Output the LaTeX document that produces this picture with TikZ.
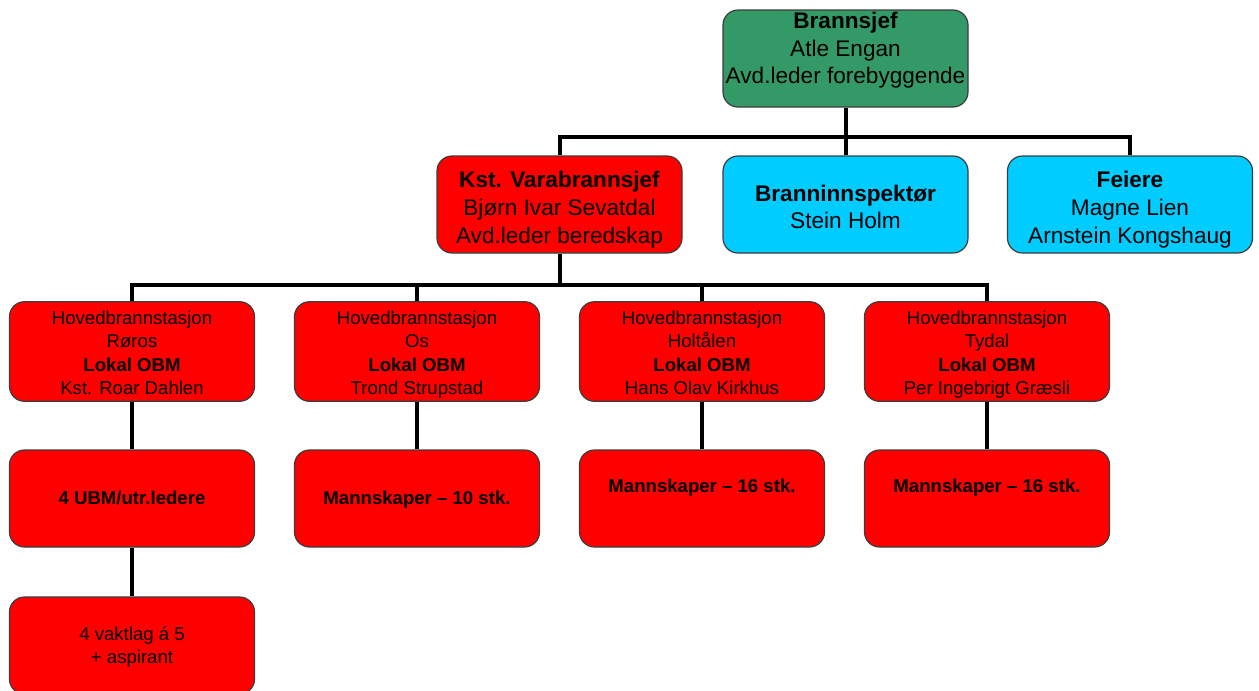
\documentclass[tikz,border=0pt]{standalone}
\usepackage{fontspec}
\setmainfont{Liberation Sans}
\definecolor{boxgreen}{RGB}{51,153,102}
\definecolor{boxred}{RGB}{255,0,0}
\definecolor{boxcyan}{RGB}{0,204,255}
\definecolor{boxline}{RGB}{60,60,60}
\newcommand\tstr[1]{\rule{0pt}{\dimexpr 0.7\baselineskip+#1\relax}}
\begin{document}
\begin{tikzpicture}[x=0.5pt,y=-0.5pt,
  box/.style={draw=boxline,line width=0.6pt,rounded corners=7.5pt,minimum width=122.5pt,minimum height=48.5pt,inner sep=0pt,align=center},
  bigtxt/.style={font=\fontsize{11.3}{13.8}\selectfont},
  smalltxt/.style={font=\fontsize{9.3}{11.6}\selectfont},
  gbox/.style={box,fill=boxgreen},
  rbox/.style={box,fill=boxred},
  cbox/.style={box,fill=boxcyan},
  conn/.style={line width=2pt,black,line join=miter}]
\useasboundingbox (0,0) rectangle (1259,691);
\coordinate (b1) at (845.5,137);
\coordinate (b2) at (559.5,285);
% top box
\node[gbox] (top) at (845.5,58.5) {};
\node[bigtxt,align=center] (toptxt) at ([yshift=4pt]top.center) {\strut\textbf{Brannsjef}\\Atle Engan\\Avd.leder forebyggende\strut};
% row 2
\node[rbox,bigtxt] (kst) at (559.5,204.5) {\tstr{5.5pt}\textbf{Kst. Varabrannsjef}\\Bjørn Ivar Sevatdal\\Avd.leder beredskap\strut};
\node[cbox,bigtxt] (insp) at (845.5,204.5) {\tstr{5pt}\textbf{Branninnspektør}\\Stein Holm\strut};
\node[cbox,bigtxt] (feie) at (1130,204.5) {\tstr{5.5pt}\textbf{Feiere}\\Magne Lien\\Arnstein Kongshaug\strut};
% row 3
\node[rbox,smalltxt] (s1) at (132,351.5) {\tstr{3.4pt}Hovedbrannstasjon\\Røros\\\textbf{Lokal OBM}\\Kst. Roar Dahlen\strut};
\node[rbox,smalltxt] (s2) at (417,351.5) {\tstr{3.4pt}Hovedbrannstasjon\\Os\\\textbf{Lokal OBM}\\Trond Strupstad\strut};
\node[rbox,smalltxt] (s3) at (702,351.5) {\tstr{3.4pt}Hovedbrannstasjon\\Holtålen\\\textbf{Lokal OBM}\\Hans Olav Kirkhus\strut};
\node[rbox,smalltxt] (s4) at (987,351.5) {\tstr{3.4pt}Hovedbrannstasjon\\Tydal\\\textbf{Lokal OBM}\\Per Ingebrigt Græsli\strut};
% row 4
\node[rbox,smalltxt] (m1) at (132,498.5) {\tstr{1.6pt}\textbf{4 UBM/utr.ledere}\strut};
\node[rbox,smalltxt] (m2) at (417,498.5) {\tstr{1.6pt}\textbf{Mannskaper – 10 stk.}\strut};
\node[rbox] (m3) at (702,498.5) {};
\node[smalltxt] (m3txt) at ([yshift=5.5pt]m3.center) {\textbf{Mannskaper – 16 stk.}};
\node[rbox] (m4) at (987,498.5) {};
\node[smalltxt] (m4txt) at ([yshift=5.5pt]m4.center) {\textbf{Mannskaper – 16 stk.}};
% row 5
\node[rbox,smalltxt] (v1) at (132,645.5) {\tstr{2.2pt}4 vaktlag á 5\\+ aspirant\strut};
% connectors
\draw[conn] (top.south) -- (b1);
\draw[conn] (kst.north) |- (b1);
\draw[conn] (feie.north) |- (b1);
\draw[conn] (insp.north) -- (b1);
\draw[conn] (kst.south) -- (b2);
\draw[conn] (s1.north) |- (b2);
\draw[conn] (s2.north) |- (b2);
\draw[conn] (s3.north) |- (b2);
\draw[conn] (s4.north) |- (b2);
\draw[conn] (s1.south) -- (m1.north);
\draw[conn] (s2.south) -- (m2.north);
\draw[conn] (s3.south) -- (m3.north);
\draw[conn] (s4.south) -- (m4.north);
\draw[conn] (m1.south) -- (v1.north);
\end{tikzpicture}
\end{document}
